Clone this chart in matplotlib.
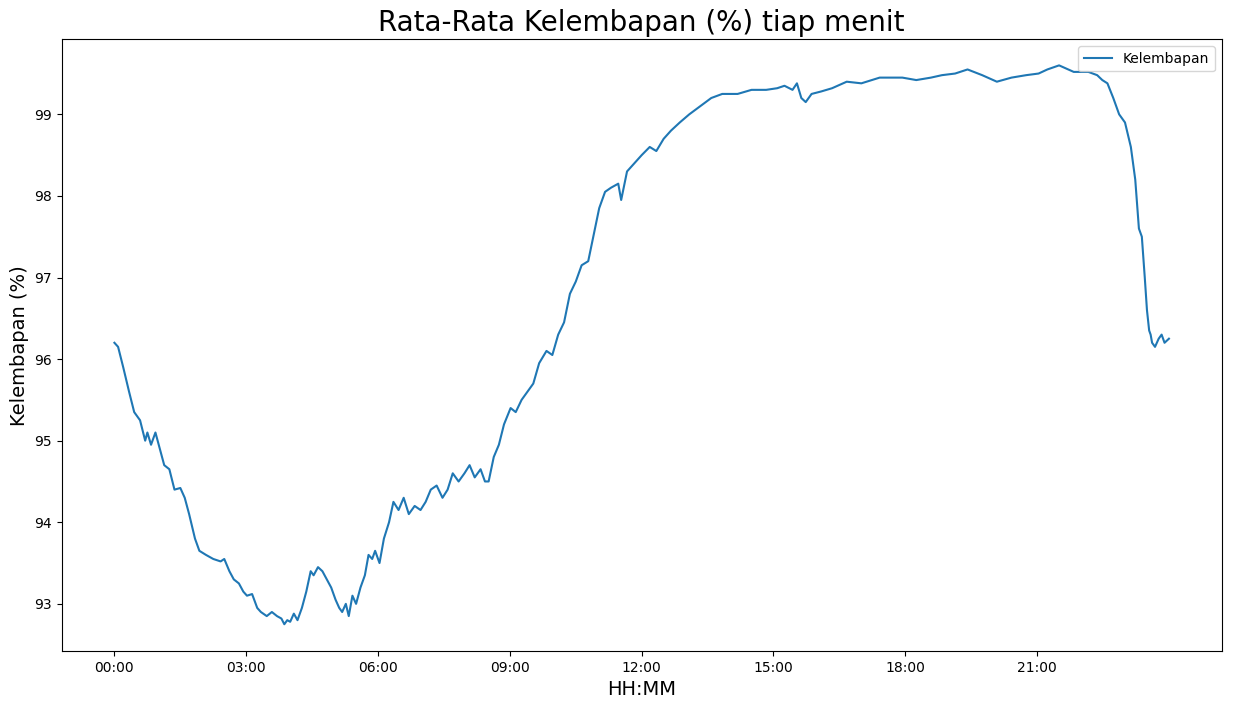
import matplotlib
matplotlib.use("Agg")
import matplotlib.pyplot as plt

# minutes since 00:00 and mean humidity (%)
menit = [0, 5, 12, 20, 27, 35, 42, 45, 50, 56, 62, 68, 75, 82, 90, 96, 102, 110, 116,
         125, 135, 145, 150, 157, 163, 170, 176, 181, 188, 195, 200, 208, 215, 222,
         228, 232, 236, 240, 245, 250, 256, 262, 268, 272, 278, 284, 290, 296, 302,
         307, 311, 316, 320, 325, 330, 336, 342, 347, 352, 356, 362, 368, 375, 381,
         388, 395, 402, 410, 418, 425, 432, 440, 448, 455, 462, 470, 478, 485, 492,
         500, 506, 511, 518, 525, 532, 541, 548, 556, 564, 572, 580, 590, 598, 606,
         614, 622, 630, 638, 647, 655, 662, 670, 678, 688, 692, 700, 710, 720, 731,
         740, 750, 760, 772, 785, 800, 815, 830, 851, 870, 890, 905, 915, 926, 932,
         938, 944, 952, 965, 980, 1000, 1020, 1045, 1076, 1095, 1115, 1130,
         1148, 1165, 1185, 1205, 1225, 1245, 1262, 1274, 1290, 1310, 1330, 1342,
         1349, 1356, 1364, 1372, 1380, 1388, 1394, 1399, 1403, 1407, 1410, 1413,
         1415, 1417, 1421, 1426, 1430, 1434, 1440]
kelembapan = [96.2, 96.15, 95.9, 95.6, 95.35, 95.25, 95.0, 95.1, 94.95, 95.1, 94.9,
              94.7, 94.65, 94.4, 94.42, 94.3, 94.1, 93.8, 93.65, 93.6, 93.55, 93.52,
              93.55, 93.4, 93.3, 93.25, 93.15, 93.1, 93.12, 92.95, 92.9, 92.85, 92.9,
              92.85, 92.82, 92.75, 92.8, 92.78, 92.88, 92.8, 92.95, 93.15, 93.4,
              93.35, 93.45, 93.4, 93.3, 93.2, 93.05, 92.95, 92.9, 93.0, 92.85, 93.1,
              93.0, 93.2, 93.35, 93.6, 93.55, 93.65, 93.5, 93.8, 94.0, 94.25, 94.15,
              94.3, 94.1, 94.2, 94.15, 94.25, 94.4, 94.45, 94.3, 94.4, 94.6, 94.5,
              94.6, 94.7, 94.55, 94.65, 94.5, 94.5, 94.8, 94.95, 95.2, 95.4, 95.35,
              95.5, 95.6, 95.7, 95.95, 96.1, 96.05, 96.3, 96.45, 96.8, 96.95, 97.15,
              97.2, 97.55, 97.85, 98.05, 98.1, 98.15, 97.95, 98.3, 98.4, 98.5, 98.6,
              98.55, 98.7, 98.8, 98.9, 99.0, 99.1, 99.2, 99.25, 99.25, 99.3, 99.3,
              99.32, 99.35, 99.3, 99.38, 99.2, 99.15, 99.25, 99.28, 99.32, 99.4,
              99.38, 99.45, 99.45, 99.42, 99.45, 99.48, 99.5, 99.55, 99.48, 99.4,
              99.45, 99.48, 99.5, 99.55, 99.6, 99.52, 99.52, 99.48, 99.42, 99.38,
              99.2, 99.0, 98.9, 98.6, 98.2, 97.6, 97.5, 97.0, 96.6, 96.35, 96.3,
              96.2, 96.15, 96.25, 96.3, 96.2, 96.25]

jam_ticks = [0, 180, 360, 540, 720, 900, 1080, 1260]
jam_labels = ["00:00", "03:00", "06:00", "09:00", "12:00", "15:00", "18:00", "21:00"]

fig, ax = plt.subplots(figsize=(12.34, 7.14), dpi=100)
ax.plot(menit, kelembapan, color="#1f77b4", linewidth=1.5, label="Kelembapan")
ax.set_xticks(jam_ticks)
ax.set_xticklabels(jam_labels)
ax.set_xlim(-72, 1512)
ax.set_ylim(92.42, 99.92)
ax.set_title("Rata-Rata Kelembapan (%) tiap menit", fontsize=20)
ax.set_xlabel("HH:MM", fontsize=14)
ax.set_ylabel("Kelembapan (%)", fontsize=14)
ax.legend(loc="upper right")
fig.subplots_adjust(left=0.05, right=0.99, top=0.945, bottom=0.088)
fig.savefig("out.png")
